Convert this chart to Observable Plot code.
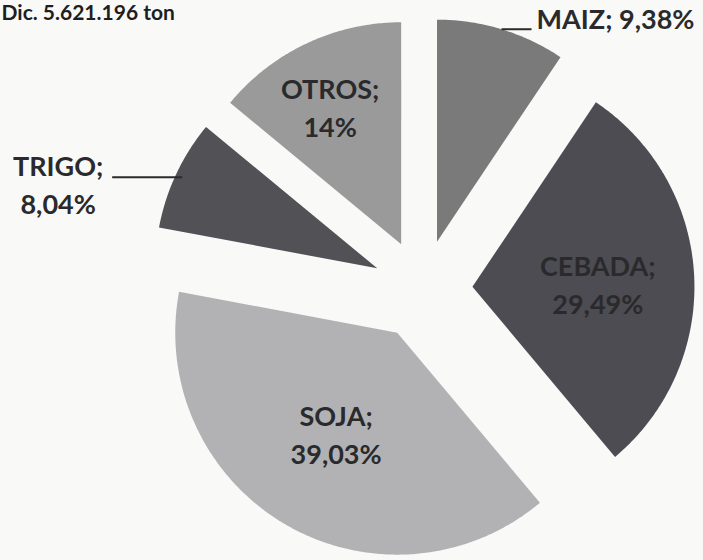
<!DOCTYPE html>
<html><head><meta charset="utf-8">
<script src="https://cdn.jsdelivr.net/npm/d3@7"></script>
<script src="https://cdn.jsdelivr.net/npm/@observablehq/plot@0.6"></script>
<style>
html,body{margin:0;padding:0;background:#f9f9f8;}
#chart svg{display:block;}
</style></head><body><div id="chart"></div>
<script>
// ---- data ----
const title = "Dic. 5.621.196 ton";
const categories = ["MAIZ", "CEBADA", "SOJA", "TRIGO", "OTROS"];
const shares = [9.38, 29.49, 39.03, 8.04, 14];
const shareLabels = ["9,38%", "29,49%", "39,03%", "8,04%", "14%"];
const greys = ["#7a7a7b", "#4c4c52", "#b2b2b4", "#515156", "#9a9a9b"];

// ---- layout ----
const W = 703, H = 560, R = 222, CX = 422, CY = 289;
const EXPLODE = 50 / R;
const xDomain = [-CX / R, (W - CX) / R];
const yDomain = [-(H - CY) / R, CY / R];
const deg = Math.PI / 180;
const inside = {OTROS: {r: 0.70, da: -2}, CEBADA: {r: 0.565, da: 1.2}, SOJA: {r: 0.53, da: 1.0}};

const arcs = d3.pie().sort(null).value(d => d)(shares);
const polys = [];
const info = arcs.map((a, i) => {
  const cat = categories[i];
  const m = (a.startAngle + a.endAngle) / 2;
  const ox = EXPLODE * Math.sin(m), oy = EXPLODE * Math.cos(m);
  polys.push({cat, x: ox, y: oy});
  const n = Math.max(10, Math.ceil((a.endAngle - a.startAngle) / 0.01));
  for (let k = 0; k <= n; k++) {
    const t = a.startAngle + (a.endAngle - a.startAngle) * k / n;
    polys.push({cat, x: ox + Math.sin(t), y: oy + Math.cos(t)});
  }
  polys.push({cat, x: ox, y: oy});
  return {cat, label: shareLabels[i], m, ox, oy,
          px: ox + Math.sin(m), py: oy + Math.cos(m)};
});

const inLabels = info.filter(d => inside[d.cat]).map(d => {
  const L = inside[d.cat], t = d.m + L.da * deg;
  return {x: d.ox + L.r * Math.sin(t), y: d.oy + L.r * Math.cos(t), text: d.cat + ";\n" + d.label};
});

const maiz = info.find(d => d.cat === "MAIZ");
const trigo = info.find(d => d.cat === "TRIGO");
const leaders = [
  {x1: maiz.px, y1: maiz.py, x2: maiz.px + 30 / R, y2: maiz.py},
  {x1: trigo.px + 6 / R, y1: trigo.py - 3 / R, x2: trigo.px - 64 / R, y2: trigo.py - 3 / R}
];
const outStart = [{x: maiz.px + 35 / R, y: maiz.py, text: maiz.cat + "; " + maiz.label}];
const outMid = [{x: trigo.px - 118 / R, y: trigo.py, text: trigo.cat + ";\n" + trigo.label}];

const font = "Lato, 'Open Sans', sans-serif";
const txt = {fontSize: 27, fontWeight: "bold", fill: "#2a2a2c"};
const chart = Plot.plot({
  width: W, height: H, margin: 0,
  x: {domain: xDomain, axis: null},
  y: {domain: yDomain, axis: null},
  color: {domain: categories, range: greys},
  style: {background: "#f9f9f8", fontFamily: font},
  marks: [
    Plot.line(polys, {x: "x", y: "y", z: "cat", fill: "cat", stroke: "none", curve: "linear"}),
    Plot.link(leaders, {x1: "x1", y1: "y1", x2: "x2", y2: "y2", stroke: "#2b2b2b", strokeWidth: 2}),
    Plot.text(inLabels, {x: "x", y: "y", text: "text", ...txt, lineHeight: 1.4, textAnchor: "middle"}),
    Plot.text(outStart, {x: "x", y: "y", text: "text", dy: -9, ...txt, textAnchor: "start"}),
    Plot.text(outMid, {x: "x", y: "y", text: "text", dy: 9, ...txt, lineHeight: 1.38, textAnchor: "middle"}),
    Plot.text([title], {frameAnchor: "top-left", text: d => d, dx: 1, dy: 5, fontSize: 21, fontWeight: "bold", fill: "#1e1e1e", textAnchor: "start"})
  ]
});
document.getElementById("chart").append(chart);
</script></body></html>
